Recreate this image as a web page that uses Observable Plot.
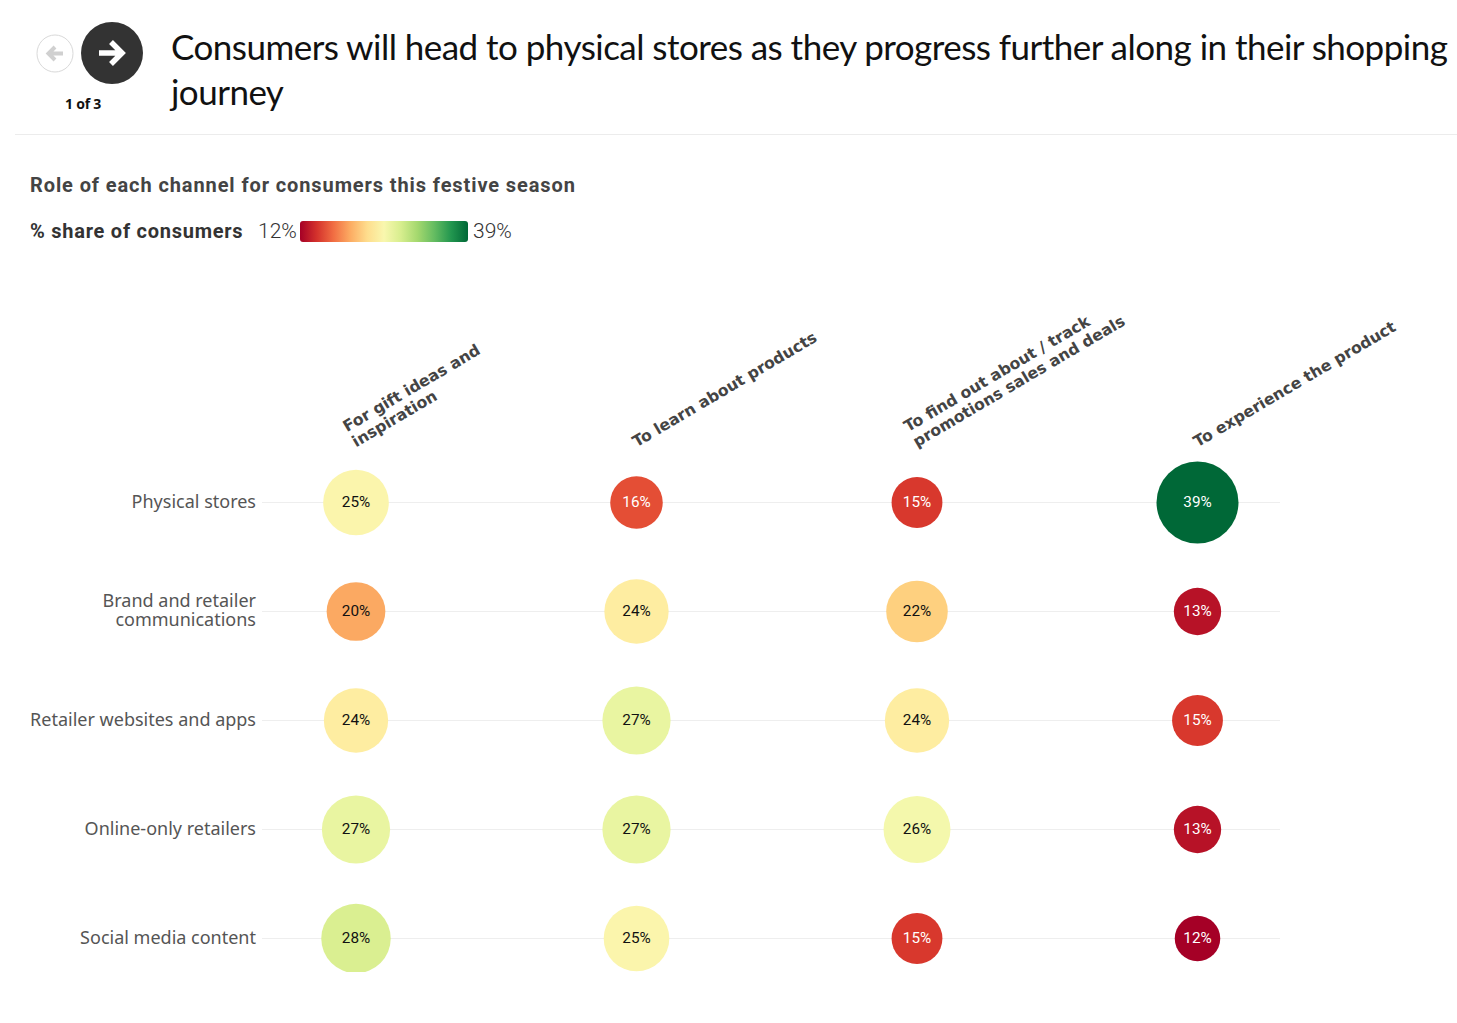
<!DOCTYPE html>
<html><head><meta charset="utf-8">
<script src="https://cdn.jsdelivr.net/npm/d3@7"></script>
<script src="https://cdn.jsdelivr.net/npm/@observablehq/plot@0.6"></script>
<style>
html,body{margin:0;padding:0;background:#fff;}
#page{position:relative;width:1457px;height:1023px;overflow:hidden;font-family:Lato,sans-serif;}
.abs{position:absolute;white-space:nowrap;}
#chart{position:absolute;left:0;top:260px;}
#chart svg{overflow:hidden;}
</style></head><body>
<div id="page">
  <svg class="abs" style="left:36px;top:22px" width="108" height="64">
    <ellipse cx="19" cy="31.5" rx="18" ry="18.5" fill="#fff" stroke="#d9d9d9"/>
    <path d="M27 31.5H13M19 25l-6.500 6.500 6.500 6.500" fill="none" stroke="#d0d0d0" stroke-width="4" stroke-linejoin="miter"/>
    <ellipse cx="76" cy="31" rx="31" ry="31" fill="#333"/>
    <path d="M63 31H86M75 20l11 11-11 11" fill="none" stroke="#fff" stroke-width="5.500"/>
  </svg>
  <div class="abs" style="left:65px;top:94px;font:700 14px 'Noto Sans';letter-spacing:-.25px;color:#111">1 of 3</div>
  <div class="abs" id="title" style="left:171px;top:24px;font:400 35px/45px Lato;color:#111;letter-spacing:-.53px">Consumers will head to physical stores as they progress further along in their shopping<br>journey</div>
  <div class="abs" style="left:15px;top:134px;width:1442px;height:1px;background:#ececec"></div>
  <div class="abs" style="left:30px;top:173px;font:700 20px/24px Roboto;letter-spacing:.9px;color:#444">Role of each channel for consumers this festive season</div>
  <div class="abs" style="left:30px;top:219px;font:700 20px/24px Roboto;letter-spacing:.75px;color:#333">% share of consumers</div>
  <div class="abs" style="left:258px;top:219px;font:300 21px/24px Roboto;color:#333">12%</div>
  <div class="abs" id="ramp" style="left:300px;top:221px;width:168px;height:21px;border-radius:3px"></div>
  <div class="abs" style="left:473px;top:219px;font:300 21px/24px Roboto;color:#333">39%</div>
  <div id="chart"></div>
</div>
<script>
const roles = ["For gift ideas and\ninspiration","To learn about products","To find out about / track\npromotions sales and deals","To experience the product"];
const channels = ["Physical stores","Brand and retailer\ncommunications","Retailer websites and apps","Online-only retailers","Social media content"];
const giftIdeas = [25,20,24,27,28];
const learnProducts = [16,24,27,27,25];
const promotions = [15,22,24,26,15];
const experience = [39,13,15,13,12];
const seriesByRole = [giftIdeas,learnProducts,promotions,experience];
const colorDomain = [12,39];

const table = roles.flatMap((role,i)=>channels.map((channel,j)=>({role,channel,value:seriesByRole[i][j]})));

document.getElementById("ramp").style.background =
  "linear-gradient(to right," + d3.range(0,1.001,0.1).map(t=>d3.interpolateRdYlGn(t)).join(",") + ")";

const chart = Plot.plot({
  width:1457, height:712,
  marginLeft:262, marginRight:177, marginTop:0, marginBottom:0,
  style:{background:"transparent"},
  x:{type:"point",domain:roles,range:[355.5,1197],padding:0,round:false,axis:null},
  y:{type:"point",domain:channels,range:[242,678],padding:0,round:false,label:null},
  r:{type:"sqrt",domain:[0,39],range:[0,41]},
  color:{type:"linear",scheme:"RdYlGn",domain:colorDomain},
  marks:[
    Plot.gridY({stroke:"#eeeeee",strokeOpacity:1}),
    Plot.axisY({anchor:"left",tickSize:0,tickPadding:6.5,label:null,fontSize:18,lineHeight:1.06,dy:-1,
      fontFamily:"'Noto Sans'",fill:"#555"}),
    Plot.dot(table,{x:"role",y:"channel",r:"value",fill:d=>d.value,stroke:null}),
    Plot.text(table,{x:"role",y:"channel",text:d=>d.value+"%",fontSize:15.3,fontWeight:400,fontFamily:"Roboto",
      fill:d=>(d.value<18||d.value>35)?"#fff":"#111"}),
    Plot.text(roles,{x:d=>d,frameAnchor:"top",dx:0,dy:187,rotate:-30.5,textAnchor:"start",lineAnchor:"bottom",
      lineHeight:1.12,fontSize:15.7,fontWeight:700,fontFamily:"'DejaVu Sans'",fill:"#444"})
  ]
});
document.getElementById("chart").appendChild(chart);
</script>
</body></html>
